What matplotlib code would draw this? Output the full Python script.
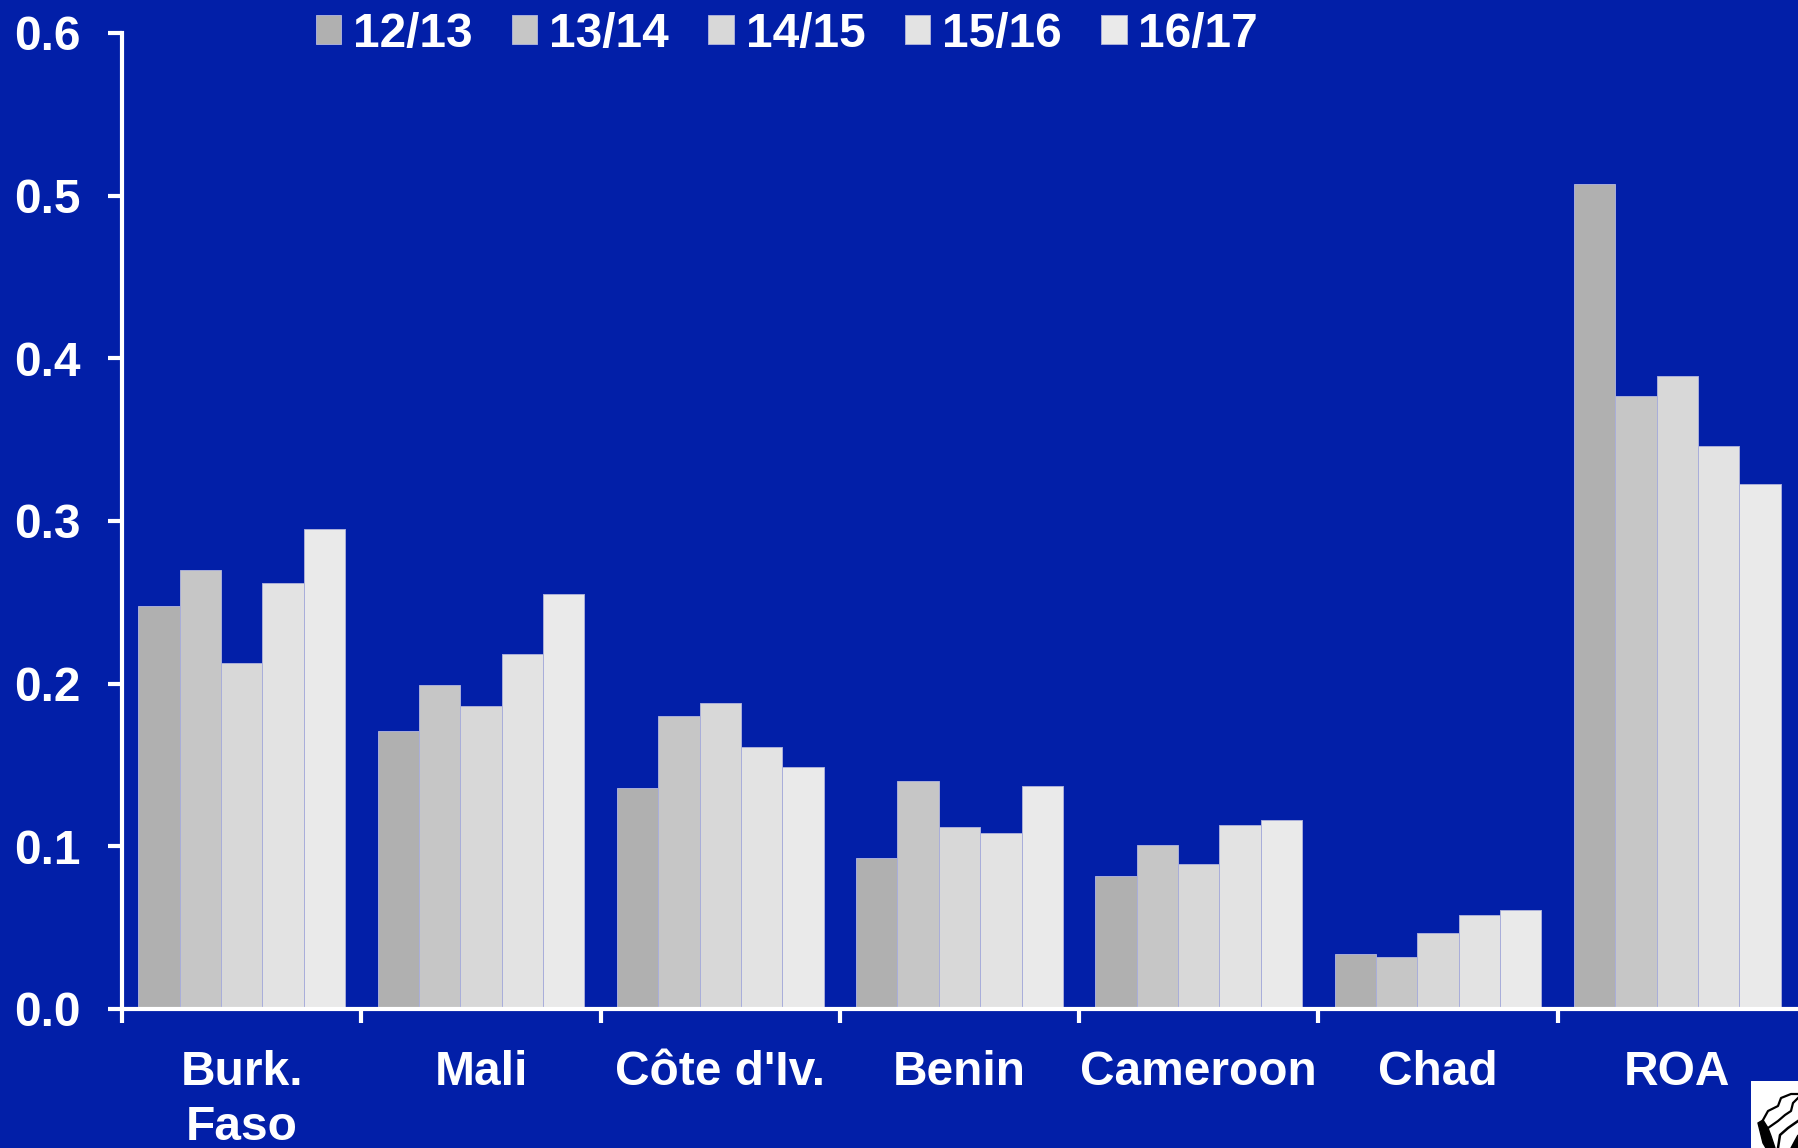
from matplotlib import pyplot as plt
import numpy as np

countries = ['Burk.\nFaso', 'Mali', "Côte d'Iv.", 'Benin', 'Cameroon', 'Chad', 'ROA']
seasons = ['12/13', '13/14', '14/15', '15/16', '16/17']
v1213 = [0.2475, 0.171, 0.136, 0.093, 0.082, 0.034, 0.507]
v1314 = [0.270, 0.199, 0.180, 0.140, 0.101, 0.032, 0.377]
v1415 = [0.213, 0.186, 0.188, 0.112, 0.089, 0.047, 0.389]
v1516 = [0.262, 0.218, 0.161, 0.108, 0.113, 0.058, 0.346]
v1617 = [0.295, 0.255, 0.149, 0.137, 0.116, 0.061, 0.323]
yticks = [0.0, 0.1, 0.2, 0.3, 0.4, 0.5, 0.6]

BG = '#021FA8'
greys = ['#B0B0B0', '#C6C6C6', '#D8D8D8', '#E3E3E3', '#EAEAEA']
W, H = 1798, 1148


def main():
    plt.rcParams['font.family'] = ['Liberation Sans', 'DejaVu Sans']
    plt.rcParams['font.weight'] = 'bold'

    fig = plt.figure(figsize=(W / 100, H / 100), dpi=100, facecolor=BG)
    ax = fig.add_axes([122 / W, (H - 1009) / H, (W - 122) / W, 976 / H], facecolor=BG)

    # bars
    series = [v1213, v1314, v1415, v1516, v1617]
    x = np.arange(len(countries))
    width = 0.1728
    for i, vals in enumerate(series):
        ax.bar(x + (i - 2) * width, vals, width, color=greys[i],
               edgecolor='#A9AEDA', linewidth=0.7, label=seasons[i], zorder=2)

    ax.set_xlim(-0.5, 6.504)
    ax.set_ylim(0, 0.6)

    # axes
    for side in ['top', 'right']:
        ax.spines[side].set_visible(False)
    for side in ['left', 'bottom']:
        ax.spines[side].set_color('white')
        ax.spines[side].set_linewidth(3)
        ax.spines[side].set_zorder(3)

    ax.set_yticks(yticks)
    ax.set_yticklabels(['%.1f' % t for t in yticks])
    ax.tick_params(axis='y', colors='white', width=3, length=10, pad=20, labelsize=34.5)
    ax.set_xticks(x - 0.5)
    ax.set_xticklabels([])
    ax.tick_params(axis='x', which='major', colors='white', width=3, length=10)
    ax.set_xticks(x, minor=True)
    ax.set_xticklabels(countries, minor=True, linespacing=1.3)
    ax.tick_params(axis='x', which='minor', colors='white', length=0, pad=29.5, labelsize=34.5)

    # legend
    ax.legend(ncol=5, frameon=False, loc='upper left', bbox_to_anchor=(0.1155, 1.022),
              fontsize=34.5, labelcolor='white', handlelength=0.53, handleheight=0.53,
              handletextpad=0.25, columnspacing=0.82, borderpad=0, borderaxespad=0)

    # logo in the corner
    logo = fig.add_axes([1751 / W, 0, 47 / W, 67 / H], facecolor='white')
    logo.set_xlim(0, 47)
    logo.set_ylim(67, 0)
    logo.axis('off')
    logo.add_patch(plt.Rectangle((0, 0), 47, 67, color='white'))
    logo.plot([12, 17, 27, 30, 40, 47], [39, 30, 25, 17, 13, 13], color='black', lw=1.6)
    logo.plot([17, 27, 34, 40, 42, 47], [47, 40, 34, 30, 22, 17], color='black', lw=1.6)
    logo.fill([7, 12, 17, 20, 24, 15, 12], [42, 39, 47, 55, 67, 67, 62], color='black')
    logo.plot([27, 29, 37, 47], [67, 54, 47, 40], color='black', lw=1.8)
    logo.fill([40, 47, 47], [67, 54, 67], color='black')

    fig.savefig('out.png', dpi=100, facecolor=BG)


if __name__ == '__main__':
    main()
